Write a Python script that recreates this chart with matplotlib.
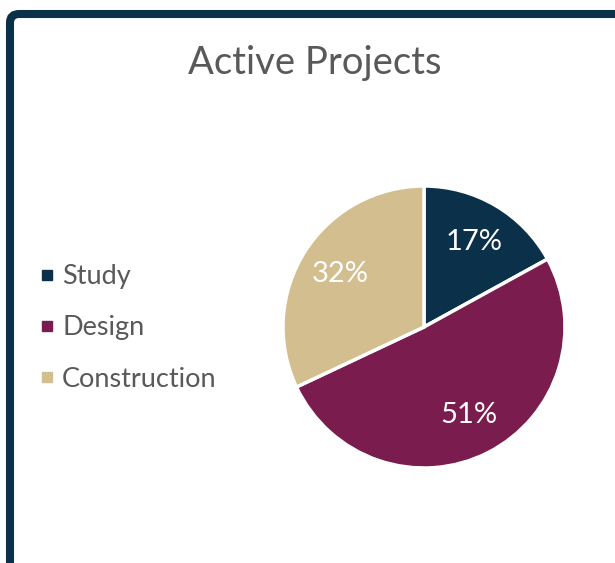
import matplotlib.pyplot as plt
from matplotlib.patches import FancyBboxPatch
from matplotlib.lines import Line2D

categories = ["Study", "Design", "Construction"]
shares = [17, 51, 32]
colors = ["#0B3049", "#7B1C4E", "#D2BE8F"]

W, H = 615, 563
fig = plt.figure(figsize=(W / 100, H / 100), dpi=100)
plt.rcParams['font.family'] = ['Lato', 'DejaVu Sans']

# dark frame round the chart (only top/left visible)
frame = FancyBboxPatch((10 / W, -0.2), 1.2, (H - 14) / H + 0.2,
                       boxstyle="round,pad=0,rounding_size=0.015",
                       transform=fig.transFigure, fill=False,
                       edgecolor="#0B3049", linewidth=5.8, clip_on=False)
fig.patches.append(frame)

fig.text(315 / W, 1 - 63 / H, "Active Projects", ha="center", va="center",
         fontsize=27.5, color="#595959")

cx, cy, r = 424, 327, 141
ax = fig.add_axes([(cx - r) / W, 1 - (cy + r) / H, 2 * r / W, 2 * r / H])
wedges, texts, autotexts = ax.pie(
    shares, colors=colors, startangle=90, counterclock=False,
    autopct=lambda p: f"{p:.0f}%", pctdistance=0.7, radius=1,
    wedgeprops=dict(edgecolor="white", linewidth=2.5),
    textprops=dict(color="white", fontsize=21))
ax.set_xlim(-1, 1)
ax.set_ylim(-1, 1)
ax.set_aspect("equal")
ax.axis("off")

handles = [Line2D([], [], marker="s", linestyle="none", markersize=7.5,
                  markerfacecolor=c, markeredgecolor=c) for c in colors]
fig.legend(handles, categories, loc="center left",
           bbox_to_anchor=(12 / W, 1 - 328 / H), frameon=False,
           fontsize=19.5, labelcolor="#595959", handletextpad=0.15,
           handlelength=0.8, labelspacing=0.97)

fig.savefig("out.png", dpi=100)
